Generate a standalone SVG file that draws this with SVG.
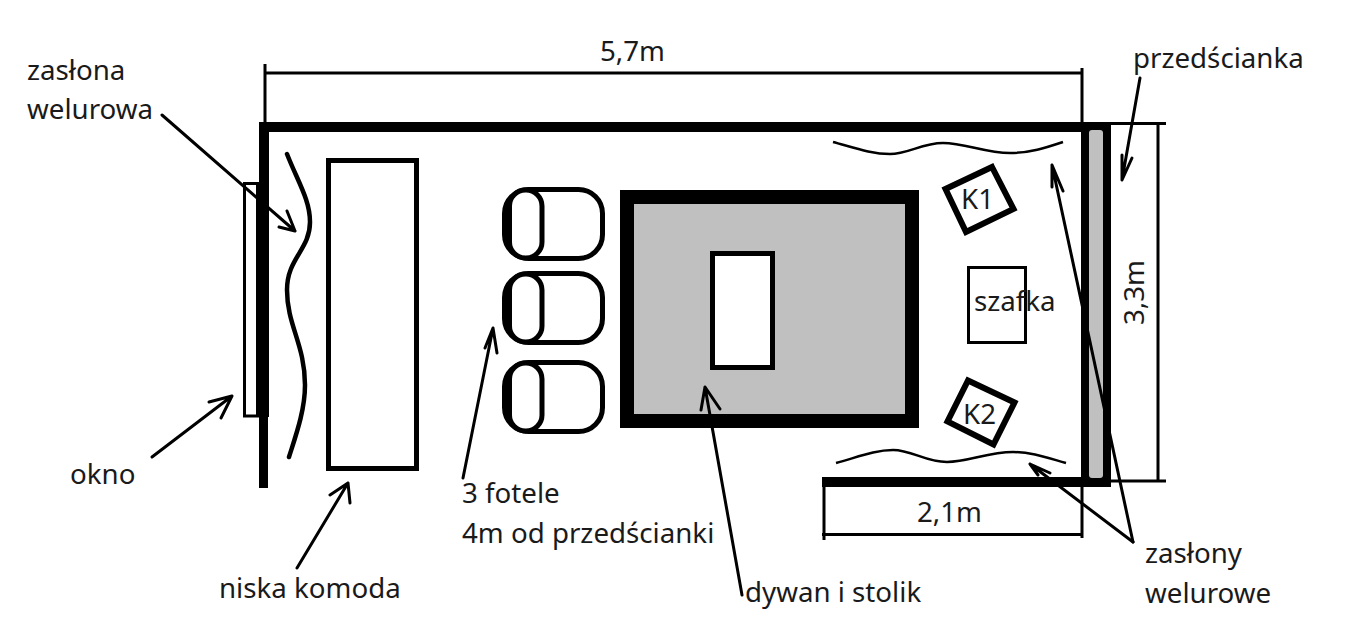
<svg xmlns="http://www.w3.org/2000/svg" width="1350" height="641" viewBox="0 0 1350 641">
<style>
text{font-family:"Noto Sans","Open Sans","Liberation Sans",sans-serif;font-size:27.700px;fill:#1a1a1a}
.o{fill:none;stroke:#000}
.w{fill:#000}
.chair{fill:#fff;stroke:#000;stroke-width:5}
.a{fill:none;stroke:#000;stroke-width:3;stroke-linecap:round;stroke-linejoin:round}
.d{fill:none;stroke:#000;stroke-width:3}
</style>
<rect width="1350" height="641" fill="#fff"/>
<g id="okno"><rect x="244.500" y="183.500" width="14" height="232.500" fill="#fff" stroke="#000" stroke-width="3"/><text x="70" y="484">okno</text></g>
<g id="sciany">
<rect class="w" x="259" y="122" width="852" height="10"/>
<rect class="w" x="259" y="132" width="10" height="50"/>
<rect class="w" x="256" y="182" width="13" height="235"/>
<rect class="w" x="259" y="417" width="9" height="71"/>
<rect class="w" x="822" y="477" width="289" height="10"/>
</g>
<g id="przedscianka"><rect class="w" x="1081" y="122" width="30" height="365"/><rect x="1089" y="130" width="14" height="348" rx="3" fill="#c0c0c0"/><text x="1133" y="68">przedścianka</text></g>
<g id="zaslona-lewa"><path class="o" stroke-width="4.500" stroke-linecap="round" d="M287 154C298 182 310 200 310 222C310 250 287 258 287 290C287 325 305 345 305 385C305 410 296 435 289 457"/><text x="27" y="80">zasłona</text><text x="27" y="119">welurowa</text></g>
<g id="komoda"><rect x="328.500" y="160.500" width="88" height="308" fill="#fff" stroke="#000" stroke-width="5"/><text x="219" y="598">niska komoda</text></g>
<g id="fotel1"><rect class="chair" x="504.500" y="189.500" width="98" height="69" rx="24"/><rect class="chair" x="509.500" y="190" width="32.500" height="68" rx="16"/></g>
<g id="fotel2"><rect class="chair" x="504.500" y="273.500" width="98" height="69" rx="24"/><rect class="chair" x="509.500" y="274" width="32.500" height="68" rx="16"/></g>
<g id="fotel3"><rect class="chair" x="504.500" y="362.500" width="98" height="69" rx="24"/><rect class="chair" x="509.500" y="363" width="32.500" height="68" rx="16"/></g>
<g id="fotele-opis"><text x="462" y="503">3 fotele</text><text x="462" y="543">4m od przedścianki</text></g>
<g id="dywan"><rect x="627" y="197" width="285" height="224" fill="#c0c0c0" stroke="#000" stroke-width="14"/><text x="745" y="602">dywan i stolik</text></g>
<g id="stolik"><rect x="712.500" y="253.500" width="60" height="114" fill="#fff" stroke="#000" stroke-width="5"/></g>
<g id="k1"><polygon points="992,167 1013.500,209 966,232 945.500,189" fill="#fff" stroke="#000" stroke-width="6"/><text x="961" y="209">K1</text></g>
<g id="k2"><polygon points="968,380.500 1014.500,402.500 993.500,444.500 947.500,421.500" fill="#fff" stroke="#000" stroke-width="6"/><text x="963" y="424">K2</text></g>
<g id="szafka"><rect x="968.500" y="267.500" width="57" height="75" fill="#fff" stroke="#000" stroke-width="3"/><text x="974" y="311">szafka</text></g>
<g id="zaslony-prawe">
<path class="o" stroke-width="2.500" d="M833 142C855 148 872 154 890 154C908 154 922 143 943 143C965 143 985 153 1010 153C1030 153 1045 148 1063 142"/>
<path class="o" stroke-width="2.500" d="M836 463C858 457 875 450 893 450C912 450 925 462 947 462C968 462 988 452 1013 452C1032 452 1048 458 1066 463"/>
<text x="1145" y="563">zasłony</text><text x="1145" y="603">welurowe</text>
</g>
<g id="wymiary">
<path class="d" d="M265 64V122M264 73H1082M1082 68V122"/>
<path class="d" d="M1111 123.500H1166M1158 122V481M1111 481H1166"/>
<path class="d" d="M824 487V540M822 534.500H1082M1082 487V538"/>
<text x="600" y="61">5,7m</text>
<text x="917" y="522">2,1m</text>
<text transform="translate(1144 325) rotate(-90)">3,3m</text>
</g>
<g id="connectors">
<path class="a" d="M162 115L295 231M287 211L295 231L279 227"/>
<path class="a" d="M152 457L232 396M209 402L232 396L221 418"/>
<path class="a" d="M297 568L348 483M330 495L348 483L350 503"/>
<path class="a" d="M463 478L493 328M485 348L493 328L497 353"/>
<path class="a" d="M742 595L705 387M701 410L705 387L720 409"/>
<path class="a" d="M1140 78L1122 180M1122 155L1122 180L1132 158"/>
<path class="a" d="M1133 542L1052 165M1063 191L1052 165L1052 187"/>
<path class="a" d="M1133 542L1030 464M1050 473L1030 464L1038 475"/>
</g>
</svg>
